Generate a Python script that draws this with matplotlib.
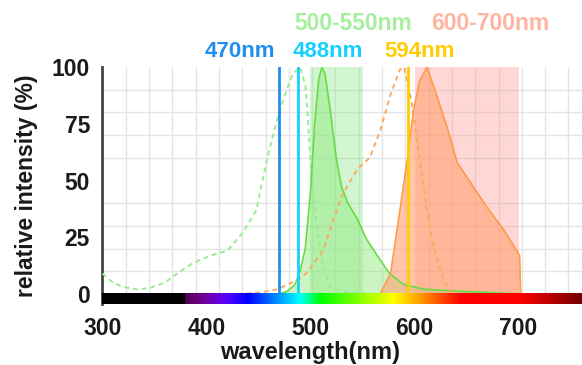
import numpy as np
import matplotlib.pyplot as plt
from matplotlib.ticker import FixedLocator

plt.rcParams['font.family'] = ['Liberation Sans', 'DejaVu Sans']
plt.rcParams['font.weight'] = 'bold'

# espectros (nm, % intensidad relativa)
gfp_ex_nm = [300, 310, 320, 333, 345, 360, 372, 385, 394, 405, 420, 435, 448, 458, 468,
             477, 483, 490, 495, 497, 501, 506, 511, 519, 530, 545, 570]
gfp_ex = [9, 5, 3, 2, 2.5, 5, 9, 13, 15, 17, 19, 27, 37, 59, 77,
          90, 97, 100, 92, 81, 52, 30, 15, 3, 1, 0.3, 0]

gfp_em_nm = [470, 477, 485, 490, 495, 500, 504, 508, 511, 514, 519, 525, 530, 536, 545,
             554, 567, 576, 590, 610, 650, 700]
gfp_em = [0, 1, 4, 10, 20, 45, 75, 95, 100, 97, 81, 59, 47, 40, 33,
          24, 15, 9, 4, 2, 1, 0]

rfp_ex_nm = [430, 450, 468, 487, 496, 512, 522, 531, 545, 557, 567, 577, 586, 590,
             597, 605, 612, 618, 628, 634, 640]
rfp_ex = [0, 0.5, 2, 6, 9, 19, 33, 44, 55, 60, 72, 88, 99, 100,
          85, 59, 37, 21, 6, 1, 0]

rfp_em_nm = [567, 577, 586, 593, 599, 605, 612, 621, 631, 641, 654, 670, 686, 701, 702]
rfp_em = [0, 9, 37, 59, 81, 94, 100, 88, 74, 58, 49, 38, 28, 17, 0]

# laseres y filtros
laser_nm = [470, 488, 594]
laser_col = ['#1f8ef0', '#18d0ff', '#ffcc00']
laser_lbl = ['470nm', '488nm', '594nm']
filtros = [(500, 550), (600, 700)]
filtro_col = ['#7de87d', '#ff8f8f']
filtro_lbl = ['500-550nm', '600-700nm']
filtro_txt = ['#a5f0a0', '#ffb4a0']


def wl_rgb(w):
    # color aproximado de una longitud de onda (negro fuera del visible)
    if w < 380:
        return (0, 0, 0)
    if w < 440:
        r, g, b = -(w - 440) / 60, 0.0, 1.0
    elif w < 490:
        r, g, b = 0.0, (w - 440) / 50, 1.0
    elif w < 510:
        r, g, b = 0.0, 1.0, -(w - 510) / 20
    elif w < 580:
        r, g, b = (w - 510) / 70, 1.0, 0.0
    elif w < 645:
        r, g, b = 1.0, -(w - 645) / 65, 0.0
    else:
        r, g, b = 1.0, 0.0, 0.0
    if w < 420:
        f = 0.3 + 0.7 * (w - 380) / 40
    elif w > 700:
        f = 0.3 + 0.7 * (780 - w) / 80
    else:
        f = 1.0
    return (r * f, g * f, b * f)


fig = plt.figure(figsize=(5.82, 3.65), dpi=100)
ax = fig.add_axes([0.176, 0.167, 0.824, 0.649])

xmin, xmax = 300, 761
ymin, ymax = -4.5, 100

for (a, b), c in zip(filtros, filtro_col):
    ax.axvspan(a, b, color=c, alpha=0.35, lw=0, zorder=1)

ax.plot(gfp_ex_nm, gfp_ex, color='#98ec92', lw=1.4, ls=(0, (2.5, 2)), zorder=3)
ax.fill_between(gfp_em_nm, gfp_em, color='#8ee87a', alpha=0.45, lw=0, zorder=2)
ax.plot(gfp_em_nm, gfp_em, color='#66dd44', lw=1.2, zorder=3)
ax.plot(rfp_ex_nm, rfp_ex, color='#ffa860', lw=1.4, ls=(0, (2.5, 2)), zorder=3)
ax.fill_between(rfp_em_nm, rfp_em, color='#ffa070', alpha=0.6, lw=0, zorder=2)
ax.plot(rfp_em_nm, rfp_em, color='#ff9a48', lw=1.2, zorder=3)

for w, c in zip(laser_nm, laser_col):
    ax.plot([w, w], [0, ymax], color=c, lw=2, zorder=4)

# barra del espectro visible
wl = np.arange(xmin, xmax + 1)
barra = np.array([[wl_rgb(w) for w in wl]])
ax.imshow(barra, extent=[xmin, xmax, ymin, 0], aspect='auto', zorder=5)

ax.set_xlim(xmin, xmax)
ax.set_ylim(ymin, ymax)
ax.xaxis.set_minor_locator(FixedLocator(np.arange(xmin, xmax, 22.4)))
ax.yaxis.set_minor_locator(FixedLocator(np.arange(0, 101, 10)))
ax.grid(True, which='minor', color='#e4e4e4', lw=1, zorder=0)
ax.set_axisbelow(True)
ax.set_xticks([300, 400, 500, 600, 700])
ax.set_yticks([0, 25, 50, 75, 100])
ax.tick_params(which='both', length=0, labelsize=16.5, pad=9, colors='#1a1a1a')
for s in ['top', 'right', 'bottom']:
    ax.spines[s].set_visible(False)
ax.spines['left'].set_color('#444444')
ax.spines['left'].set_linewidth(2)

ax.set_xlabel('wavelength(nm)', fontsize=17, fontweight='bold', color='#1a1a1a')
ax.set_ylabel('relative intensity (%)', fontsize=16.5, fontweight='bold', color='#1a1a1a')
ax.xaxis.set_label_coords(0.433, -0.155)
ax.yaxis.set_label_coords(-0.135, 0.5)

trans = ax.get_xaxis_transform()
lbl_x = [432, 517, 605]
for x, s, c in zip(lbl_x, laser_lbl, laser_col):
    ax.text(x, 1.065, s, color=c, fontsize=16, fontweight='bold', ha='center', va='center', transform=trans)
filtro_x = [541, 673]
for x, s, c in zip(filtro_x, filtro_lbl, filtro_txt):
    ax.text(x, 1.185, s, color=c, fontsize=16.5, fontweight='bold', ha='center', va='center', transform=trans)

plt.savefig('out.png', dpi=100)
